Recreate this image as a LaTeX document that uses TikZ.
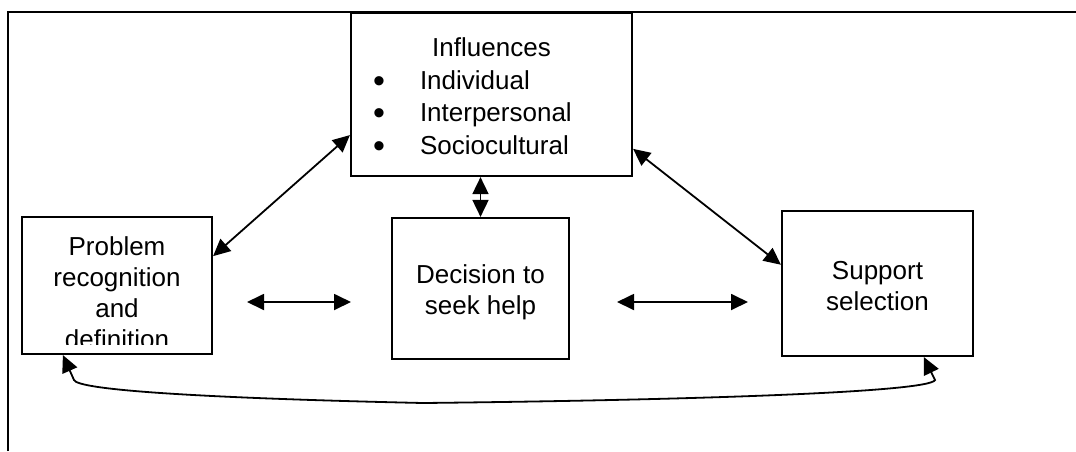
\documentclass[tikz,border=0pt]{standalone}
\usepackage{fontspec}
\setmainfont{Liberation Sans}
\usetikzlibrary{arrows.meta}
\newcommand{\bigbullet}{\raisebox{-3pt}{\fontsize{34}{30}\selectfont\textbullet}}
\tikzset{
  box/.style={draw,line width=2.2pt,inner sep=0pt,align=center,font=\fontsize{26}{31}\selectfont},
  arr/.style={line width=1.8pt,{Triangle[length=17pt,width=16pt]}-{Triangle[length=17pt,width=16pt]}}
}
\begin{document}
\begin{tikzpicture}[x=1pt,y=-1pt]
    \useasboundingbox (0,0) rectangle (1076,451);
    \draw[line width=2.4pt] (8,451) -- (8,12) -- (1076,12);
    % boxes
    \node[box,minimum width=281pt,minimum height=163pt] (infl) at (491.5,94.5) {};
    \node[box,draw=none,text width=281pt,align=left,font=\fontsize{26}{32.5}\selectfont] (infltext) at ([yshift=-3pt]infl.center)
        {\makebox[281pt]{Influences}\\
         \hspace*{22pt}\makebox[47pt][l]{\bigbullet}Individual\\
         \hspace*{22pt}\makebox[47pt][l]{\bigbullet}Interpersonal\\
         \hspace*{22pt}\makebox[47pt][l]{\bigbullet}Sociocultural};
    \node[box,minimum width=190pt,minimum height=137pt] (prob) at (117,285.5) {};
    \begin{scope}
        \clip (prob.north west) rectangle ([yshift=11pt]prob.south east);
        \node[box,draw=none] (probtext) at ([yshift=-7pt]prob.center) {Problem\\recognition\\and\\definition};
    \end{scope}
    \node[box,minimum width=177pt,minimum height=141pt] (dec) at (480.5,288.5) {};
    \node[box,draw=none] (dectext) at ([yshift=-4pt]dec.center) {Decision to\\seek help};
    \node[box,minimum width=191pt,minimum height=145pt] (supp) at (877.5,283.5) {};
    \node[box,draw=none] (supptext) at ([yshift=-3pt]supp.center) {Support\\selection};
    % arrows
    \draw[arr] (prob.17) -- (infl.196);
    \draw[arr] (infl.-21) -- (supp.169);
    \draw[arr] (infl.south -| dec.north) -- (dec.north);
    \coordinate (h1) at (247,302);\coordinate (h2) at (351,302);
    \coordinate (h3) at (617,302);\coordinate (h4) at (748,302);
    \draw[arr] (h1) -- (h2);\draw[arr] (h3) -- (h4);
    \coordinate (c1) at ([xshift=42pt]prob.south west);\coordinate (c2) at ([xshift=143pt]supp.south west);
    \draw[arr] (c1) -- (74,380) .. controls (78,390) and (200,398) .. (423,403) .. controls (700,400) and (930,392) .. (935,380) -- (c2);
\end{tikzpicture}
\end{document}
